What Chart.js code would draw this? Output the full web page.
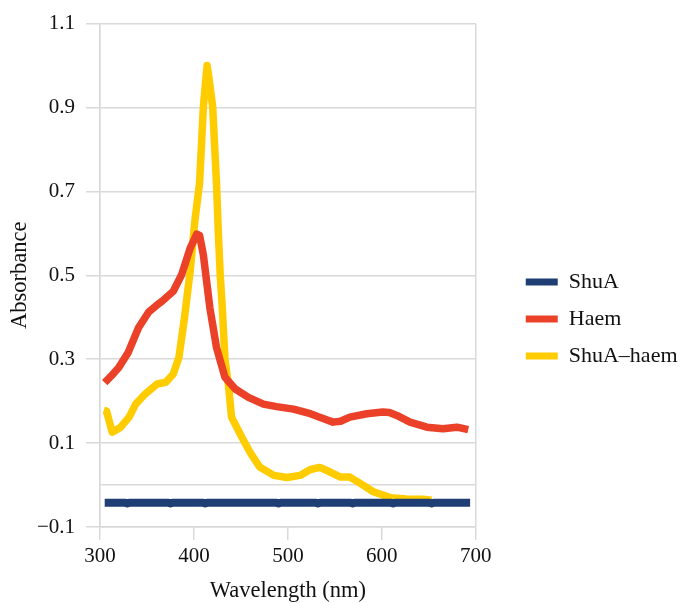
<!DOCTYPE html>
<html>
<head>
<meta charset="utf-8">
<script src="https://cdn.jsdelivr.net/npm/chart.js@4.4.1/dist/chart.umd.min.js"></script>
<style>
  html, body { margin: 0; padding: 0; background: #fff; }
  #wrap { width: 681px; height: 603px; }
</style>
</head>
<body>
<div id="wrap"><canvas id="chart" width="681" height="603"></canvas></div>
<script>
const seriesNames = ["ShuA", "Haem", "ShuA\u2013haem"];
const seriesColors = ["#1f3f74", "#ea4128", "#ffcc00"];

const shuaWl = [305, 326, 329, 332, 372, 375, 378, 409, 412, 415, 487, 490, 493, 529, 532, 535, 566, 569, 572, 609, 612, 615, 650, 653, 656, 694];
const shuaAbs = [-0.042, -0.042, -0.044, -0.042, -0.042, -0.044, -0.042, -0.042, -0.044, -0.042, -0.042, -0.044, -0.042, -0.042, -0.044, -0.042, -0.042, -0.044, -0.042, -0.042, -0.044, -0.042, -0.042, -0.044, -0.042, -0.042];

const haemWl = [305, 312, 320, 330, 341, 352, 360, 366, 372, 378, 387, 396, 403, 406, 410, 417, 424, 433, 444, 458, 474, 488, 506, 524, 536, 548, 556, 566, 584, 601, 608, 616, 630, 648, 665, 680, 692];
const haemAbs = [0.244, 0.260, 0.280, 0.316, 0.375, 0.413, 0.428, 0.438, 0.450, 0.462, 0.502, 0.565, 0.598, 0.595, 0.549, 0.422, 0.328, 0.257, 0.229, 0.209, 0.193, 0.187, 0.181, 0.170, 0.160, 0.150, 0.152, 0.162, 0.170, 0.174, 0.173, 0.166, 0.150, 0.138, 0.134, 0.138, 0.132];

const mixWl = [304, 307, 313, 322, 331, 338, 348, 361, 370, 378, 384, 390, 396, 401, 406, 410, 414, 416, 420, 424, 426, 428, 430, 433, 437, 440, 451, 460, 470, 485, 499, 513, 524, 534, 545, 556, 566, 577, 591, 609, 626, 644, 653];
const mixAbs = [0.178, 0.176, 0.126, 0.138, 0.162, 0.193, 0.217, 0.241, 0.245, 0.265, 0.304, 0.400, 0.510, 0.630, 0.720, 0.900, 1.000, 0.970, 0.900, 0.720, 0.600, 0.500, 0.430, 0.300, 0.233, 0.162, 0.114, 0.077, 0.043, 0.023, 0.018, 0.023, 0.037, 0.042, 0.031, 0.019, 0.019, 0.004, -0.016, -0.030, -0.033, -0.034, -0.036];

const xTicks = [300, 400, 500, 600, 700];
const yTicks = [-0.1, 0.1, 0.3, 0.5, 0.7, 0.9, 1.1];

const gridGrey = "#d9d9d9";
const legendGapPx = 35;

function pts(xs, ys) {
    return xs.map((x, i) => ({ x: x, y: ys[i] }));
}

// leave some white space between the plot and the legend
const legendGap = {
    id: "legendGap",
    beforeLayout(chart) {
        const lg = chart.legend;
        if (lg && !lg._gapWrapped) {
            const fit = lg.fit;
            lg.fit = function () { fit.call(this); this.width += legendGapPx; };
            lg._gapWrapped = true;
        }
    },
    afterLayout(chart) {
        const lg = chart.legend;
        if (lg) { lg.left += legendGapPx; lg.width -= legendGapPx; }
    }
};

Chart.defaults.font.family = "'Liberation Serif', 'Times New Roman', serif";
Chart.defaults.font.size = 21;
Chart.defaults.color = "#111";

const lines = [pts(shuaWl, shuaAbs), pts(haemWl, haemAbs), pts(mixWl, mixAbs)];

new Chart(document.getElementById("chart").getContext("2d"), {
    type: "line",
    data: {
        datasets: lines.map((d, i) => ({
            label: seriesNames[i],
            data: d,
            borderColor: seriesColors[i],
            backgroundColor: seriesColors[i],
            borderWidth: i === 0 ? 8 : 7.5,
            pointRadius: 0,
            tension: 0,
            fill: false,
            borderJoinStyle: "round"
        }))
    },
    plugins: [legendGap],
    options: {
        responsive: false,
        animation: false,
        layout: { padding: { top: 7, right: 0, bottom: 0, left: 0 } },
        plugins: {
            tooltip: { enabled: false },
            legend: {
                position: "right",
                title: { display: true, text: " ", font: { size: 10 }, padding: 8 },
                labels: {
                    boxWidth: 32,
                    boxHeight: 7,
                    padding: 15,
                    font: { size: 22 },
                    generateLabels: (chart) =>
                        Chart.defaults.plugins.legend.labels.generateLabels(chart).map(l => ({ ...l, lineWidth: 0 }))
                }
            }
        },
        scales: {
            x: {
                type: "linear",
                min: 300,
                max: 700,
                afterBuildTicks: (s) => { s.ticks = xTicks.map(v => ({ value: v })); },
                afterFit: (s) => { s.height = 76; },
                ticks: { padding: 4, autoSkip: false, maxRotation: 0 },
                grid: {
                    color: (c) => (c.tick && (c.tick.value === 300 || c.tick.value === 700)) ? gridGrey : "rgba(0,0,0,0)",
                    tickColor: gridGrey,
                    tickLength: 13,
                    lineWidth: 1.5
                },
                border: { display: true, color: gridGrey, width: 1.5 },
                title: { display: true, text: "Wavelength (nm)", font: { size: 22.5 }, padding: { top: 10, bottom: -2 } }
            },
            y: {
                min: -0.1,
                max: 1.1,
                afterBuildTicks: (s) => {
                    const t = yTicks.concat([0]).sort((a, b) => a - b);
                    s.ticks = t.map(v => ({ value: v }));
                },
                afterFit: (s) => { s.width = 100; },
                ticks: {
                    padding: 11,
                    autoSkip: false,
                    callback: (v) => {
                        if (Math.abs(v) < 1e-9) return "";
                        const s = Math.abs(v).toFixed(1);
                        return v < 0 ? "\u2212" + s : s;
                    }
                },
                grid: {
                    color: gridGrey,
                    tickColor: (c) => (c.tick && Math.abs(c.tick.value) < 1e-9) ? "rgba(0,0,0,0)" : gridGrey,
                    tickLength: 14,
                    lineWidth: 1.5
                },
                border: { display: true, color: gridGrey, width: 1.5 },
                title: { display: true, text: "Absorbance", font: { size: 22.5 }, padding: { top: 7, bottom: 6 } }
            }
        }
    }
});
</script>
</body>
</html>
